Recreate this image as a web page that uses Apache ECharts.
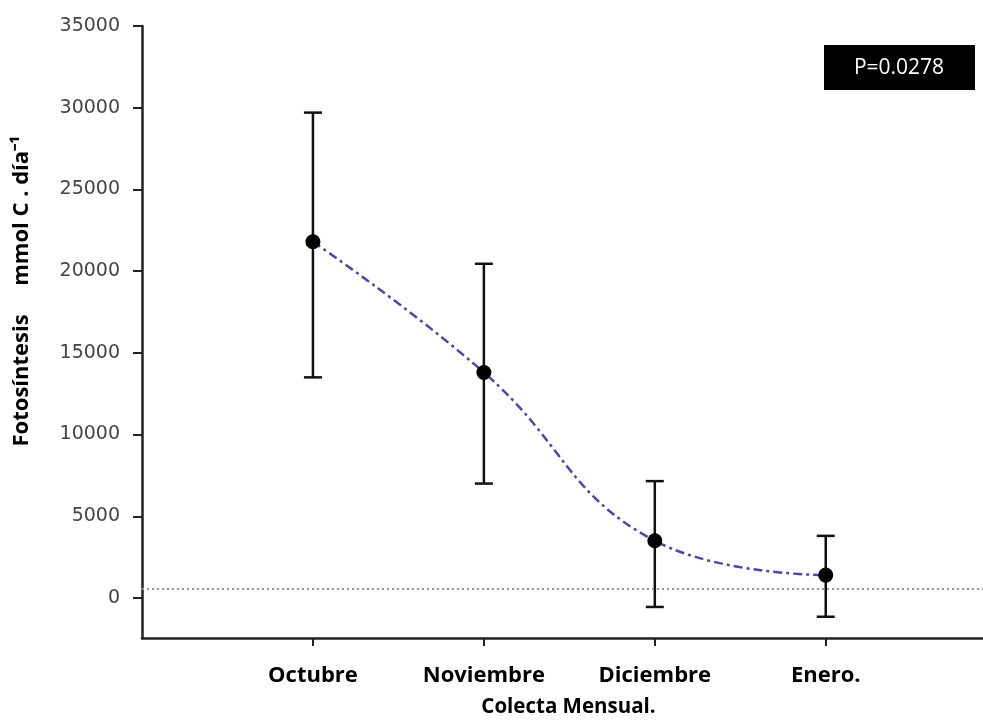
<!DOCTYPE html>
<html>
<head>
<meta charset="utf-8">
<script src="https://cdn.jsdelivr.net/npm/echarts@6/dist/echarts.min.js"></script>
<style>
  html, body { margin: 0; padding: 0; background: #fff; }
  #chart { width: 983px; height: 721px; }
</style>
</head>
<body>
<div id="chart"></div>
<script>
// months sampled
const categories = ['Octubre', 'Noviembre', 'Diciembre', 'Enero.'];
// mean photosynthesis and error bar limits (mmol C . día-1)
const means = [21800, 13800, 3500, 1400];
const upper = [29700, 20450, 7150, 3800];
const lower = [13500, 7000, -550, -1150];
// grey dotted reference level
const referenceLevel = 550;
const yTicks = [0, 5000, 10000, 15000, 20000, 25000, 30000, 35000];
const xTicks = [1, 2, 3, 4];
const pText = 'P=0.0278';

const chart = echarts.init(document.getElementById('chart'));

const option = {
  backgroundColor: '#fff',
  animation: false,
  grid: {
    left: 142,
    right: 0,
    top: 26,
    bottom: 83,
    containLabel: false,
    outerBoundsMode: 'none'
  },
  xAxis: {
    type: 'value',
    min: 0,
    max: 4.92,
    axisLine: { onZero: false, lineStyle: { color: '#222', width: 2.5 } },
    axisTick: { show: true, length: 8, customValues: xTicks, lineStyle: { color: '#222', width: 2 } },
    axisLabel: {
      customValues: xTicks,
      margin: 27,
      color: '#000',
      fontFamily: 'Open Sans',
      fontWeight: 'bold',
      fontSize: 22,
      formatter: function (v) { return categories[v - 1] || ''; }
    },
    splitLine: { show: false },
    name: 'Colecta Mensual.',
    nameLocation: 'middle',
    nameGap: 59,
    nameTextStyle: { color: '#000', fontFamily: 'Open Sans', fontWeight: 'bold', fontSize: 20.5, padding: [0, 0, 0, 12] }
  },
  yAxis: {
    type: 'value',
    min: -2450,
    max: 35000,
    axisLine: { show: true, onZero: false, lineStyle: { color: '#222', width: 2.5 } },
    axisTick: { show: true, length: 9, customValues: yTicks, lineStyle: { color: '#222', width: 2 } },
    axisLabel: {
      customValues: yTicks,
      margin: 22,
      color: '#444',
      fontFamily: 'DejaVu Sans',
      fontSize: 19,
      formatter: function (v) { return String(v); }
    },
    splitLine: { show: false }
  },
  graphic: [
    {
      type: 'text',
      x: 22,
      y: 291,
      rotation: Math.PI / 2,
      style: {
        text: 'Fotosíntesis     mmol C . día\u207B\u00B9',
        font: 'bold 22px "Open Sans"',
        fill: '#000',
        align: 'center',
        verticalAlign: 'middle'
      }
    },
    {
      type: 'group',
      children: [
        { type: 'rect', shape: { x: 824, y: 45, width: 151, height: 45 }, style: { fill: '#000' } },
        {
          type: 'text', x: 899, y: 68,
          style: { text: pText, font: '21px "Open Sans"', fill: '#fff', align: 'center', verticalAlign: 'middle' }
        }
      ]
    }
  ],
  series: [
    {
      type: 'custom',
      name: 'error',
      z: 2,
      data: categories.map((c, i) => [i + 1, lower[i], upper[i]]),
      encode: { x: 0, y: [1, 2] },
      renderItem: function (params, api) {
        const x = api.value(0);
        const lo = api.coord([x, api.value(1)]);
        const hi = api.coord([x, api.value(2)]);
        const w = 9;
        const style = { stroke: '#111', lineWidth: 2.5 };
        return {
          type: 'group',
          children: [
            { type: 'line', shape: { x1: lo[0], y1: lo[1], x2: hi[0], y2: hi[1] }, style: style },
            { type: 'line', shape: { x1: hi[0] - w, y1: hi[1], x2: hi[0] + w, y2: hi[1] }, style: style },
            { type: 'line', shape: { x1: lo[0] - w, y1: lo[1], x2: lo[0] + w, y2: lo[1] }, style: style }
          ]
        };
      }
    },
    {
      type: 'line',
      name: 'media',
      z: 3,
      data: means.map((v, i) => [i + 1, v]),
      smooth: 0.45,
      symbol: 'circle',
      symbolSize: 15,
      itemStyle: { color: '#000' },
      lineStyle: { color: '#4a4aa6', width: 2.5, type: [9, 4, 3, 4] },
      markLine: {
        silent: true,
        symbol: ['none', 'none'],
        label: { show: false },
        lineStyle: { color: '#999', width: 1.8, type: [2, 3] },
        data: [{ yAxis: referenceLevel }]
      }
    }
  ]
};

chart.setOption(option);
</script>
</body>
</html>
